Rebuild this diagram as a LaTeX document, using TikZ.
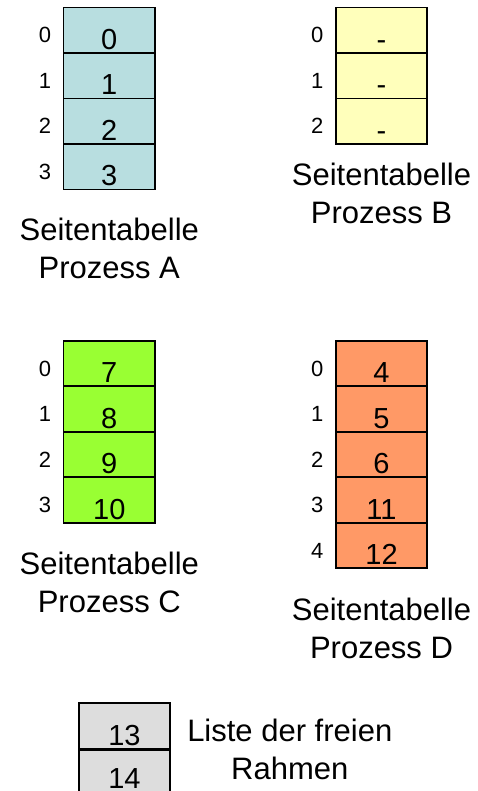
\documentclass[tikz,border=0pt]{standalone}
\usepackage{fontspec}
\setmainfont{Liberation Sans}
\usetikzlibrary{positioning}
\definecolor{tabA}{RGB}{184,222,224}
\definecolor{tabB}{RGB}{255,255,187}
\definecolor{tabC}{RGB}{153,255,51}
\definecolor{tabD}{RGB}{255,153,102}
\definecolor{tabFree}{RGB}{221,221,221}
\begin{document}
\begin{tikzpicture}[
  x=1pt, y=-1pt,
  cell/.style={rectangle, draw=black, line width=1.6pt, minimum width=91.5pt, minimum height=45.5pt, inner sep=0pt, text height=38pt, text depth=0pt, font=\fontsize{29}{31}\selectfont},
  idx/.style={inner sep=0pt, font=\fontsize{22}{24}\selectfont},
  caption/.style={inner sep=0pt, align=center, font=\fontsize{31}{38}\selectfont},
]
\path[use as bounding box, clip] (0,0) rectangle (477,791);

\foreach \v [count=\i from 0] in {0,1,2,3} {
  \node[cell, fill=tabA] (a\i) at (109.3, 30.25+45.5*\i) {\v};
  \node[idx, left=11.5pt of a\i.west, yshift=-5pt] (ia\i) {\i};
}
\foreach \v [count=\i from 0] in {-,-,-} {
  \node[cell, fill=tabB] (b\i) at (381.5, 30.25+45.5*\i) {\v};
  \node[idx, left=11.5pt of b\i.west, yshift=-5pt] (ib\i) {\i};
}
\foreach \v [count=\i from 0] in {7,8,9,10} {
  \node[cell, fill=tabC] (c\i) at (109.3, 363.5+45.5*\i) {\v};
  \node[idx, left=11.5pt of c\i.west, yshift=-5pt] (ic\i) {\i};
}
\foreach \v [count=\i from 0] in {4,5,6,11,12} {
  \node[cell, fill=tabD] (d\i) at (381.5, 363.5+45.5*\i) {\v};
  \node[idx, left=11.5pt of d\i.west, yshift=-5pt] (id\i) {\i};
}
\node[cell, fill=tabFree] (f0) at (124.5, 726) {13};
\node[cell, fill=tabFree, text height=30.5pt, below=0pt of f0] (f1) {14};

\node[caption, below=28pt of a3] (capA) {Seitentabelle\\Prozess A};
\node[caption, below=18pt of b2] (capB) {Seitentabelle\\Prozess B};
\node[caption, below=28pt of c3] (capC) {Seitentabelle\\Prozess C};
\node[caption, below=29pt of d4] (capD) {Seitentabelle\\Prozess D};
\node[caption, right=16pt of f0.south east] (capF) {Liste der freien\\Rahmen};
\end{tikzpicture}
\end{document}
